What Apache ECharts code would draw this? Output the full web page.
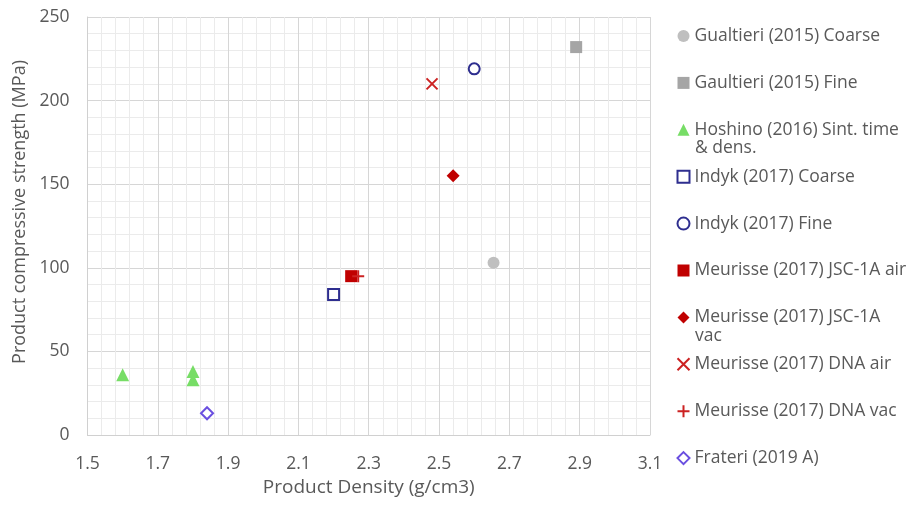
<!DOCTYPE html>
<html>
<head>
<meta charset="utf-8">
<script src="https://cdn.jsdelivr.net/npm/echarts@6/dist/echarts.min.js"></script>
<style>html,body{margin:0;padding:0;background:#fff}#c{width:916px;height:508px}</style>
</head>
<body>
<div id="c"></div>
<script>
// ---- data ----
var seriesNames = [
  'Gualtieri (2015) Coarse',
  'Gaultieri (2015) Fine',
  'Hoshino (2016) Sint. time & dens.',
  'Indyk (2017) Coarse',
  'Indyk (2017) Fine',
  'Meurisse (2017) JSC-1A air',
  'Meurisse (2017) JSC-1A vac',
  'Meurisse (2017) DNA air',
  'Meurisse (2017) DNA vac',
  'Frateri (2019 A)'
];
var gualtieriCoarse = [[2.655, 103]];
var gaultieriFine = [[2.89, 232]];
var hoshino = [[1.6, 36], [1.8, 38], [1.8, 33]];
var indykCoarse = [[2.2, 84]];
var indykFine = [[2.6, 219]];
var meurisseJscAir = [[2.25, 95]];
var meurisseJscVac = [[2.54, 155]];
var meurisseDnaAir = [[2.48, 210]];
var meurisseDnaVac = [[2.27, 95]];
var frateri = [[1.84, 13]];
var xTicks = [1.5, 1.7, 1.9, 2.1, 2.3, 2.5, 2.7, 2.9, 3.1];
var yTicks = [0, 50, 100, 150, 200, 250];

var FONT = 'Open Sans';
var TXT = '#595959';
var chart = echarts.init(document.getElementById('c'));

function s(name, data, symbol, size, style) {
  style.opacity = 1;
  return { type: 'scatter', name: name, data: data, symbol: symbol, symbolSize: size, itemStyle: style };
}

var legendFirstLine = {
  'Hoshino (2016) Sint. time & dens.': 'Hoshino (2016) Sint. time',
  'Meurisse (2017) JSC-1A vac': 'Meurisse (2017) JSC-1A'
};

chart.setOption({
  animation: false,
  backgroundColor: '#fff',
  grid: { left: 87.5, right: 266, top: 17, bottom: 73, containLabel: false },
  xAxis: {
    type: 'value', min: xTicks[0], max: xTicks[xTicks.length - 1], interval: 0.2,
    name: 'Product Density (g/cm3)', nameLocation: 'middle', nameGap: 36,
    nameTextStyle: { fontFamily: FONT, fontSize: 19, color: TXT },
    axisLine: { show: true, lineStyle: { color: '#d0d0d0' } },
    axisTick: { show: false },
    axisLabel: { fontFamily: FONT, fontSize: 17.5, color: TXT, margin: 20,
      formatter: function (v) { return v.toFixed(1); } },
    splitLine: { show: true, lineStyle: { color: '#d6d6d6', width: 1 } },
    minorTick: { show: false, splitNumber: 5 },
    minorSplitLine: { show: true, lineStyle: { color: '#ebebeb', width: 1 } }
  },
  yAxis: {
    type: 'value', min: yTicks[0], max: yTicks[yTicks.length - 1], interval: 50,
    name: 'Product compressive strength (MPa)', nameLocation: 'middle', nameGap: 59,
    nameTextStyle: { fontFamily: FONT, fontSize: 18, color: TXT, padding: [0, 0, 0, 28] },
    axisLine: { show: true, lineStyle: { color: '#d0d0d0' } },
    axisTick: { show: false },
    axisLabel: { fontFamily: FONT, fontSize: 17.5, color: TXT, margin: 18 },
    splitLine: { show: true, lineStyle: { color: '#d6d6d6', width: 1 } },
    minorTick: { show: false, splitNumber: 5 },
    minorSplitLine: { show: true, lineStyle: { color: '#ebebeb', width: 1 } }
  },
  legend: {
    orient: 'vertical', left: 670, top: 21, itemGap: 26.9,
    itemWidth: 12, itemHeight: 12,
    textStyle: { fontFamily: FONT, fontSize: 17.5, color: TXT, lineHeight: 20 },
    formatter: function (n) { return legendFirstLine[n] || n; },
    data: seriesNames
  },
  graphic: [
    { type: 'text', left: 695, top: 139, style: { text: '& dens.', fontFamily: FONT, fontSize: 17.5, fill: TXT } },
    { type: 'text', left: 695, top: 327, style: { text: 'vac', fontFamily: FONT, fontSize: 17.5, fill: TXT } }
  ],
  series: [
    s(seriesNames[0], gualtieriCoarse, 'circle', 12, { color: '#bfbfbf' }),
    s(seriesNames[1], gaultieriFine, 'rect', 12, { color: '#a5a5a5' }),
    s(seriesNames[2], hoshino, 'triangle', 13, { color: '#77dd66' }),
    s(seriesNames[3], indykCoarse, 'rect', 11, { color: '#fff', borderColor: '#2e2e8f', borderWidth: 2 }),
    s(seriesNames[4], indykFine, 'circle', 11, { color: '#fff', borderColor: '#2e2e8f', borderWidth: 2 }),
    s(seriesNames[5], meurisseJscAir, 'rect', 12, { color: '#c00000' }),
    s(seriesNames[6], meurisseJscVac, 'diamond', 13, { color: '#c00000' }),
    s(seriesNames[7], meurisseDnaAir, 'path://M0,0L10,10M10,0L0,10', 11, { color: 'none', borderColor: '#cc2222', borderWidth: 2 }),
    s(seriesNames[8], meurisseDnaVac, 'path://M5,0L5,10M0,5L10,5', 12, { color: 'none', borderColor: '#cc2222', borderWidth: 2 }),
    s(seriesNames[9], frateri, 'diamond', 12, { color: '#fff', borderColor: '#6a4fe0', borderWidth: 2 })
  ]
});
</script>
</body>
</html>
